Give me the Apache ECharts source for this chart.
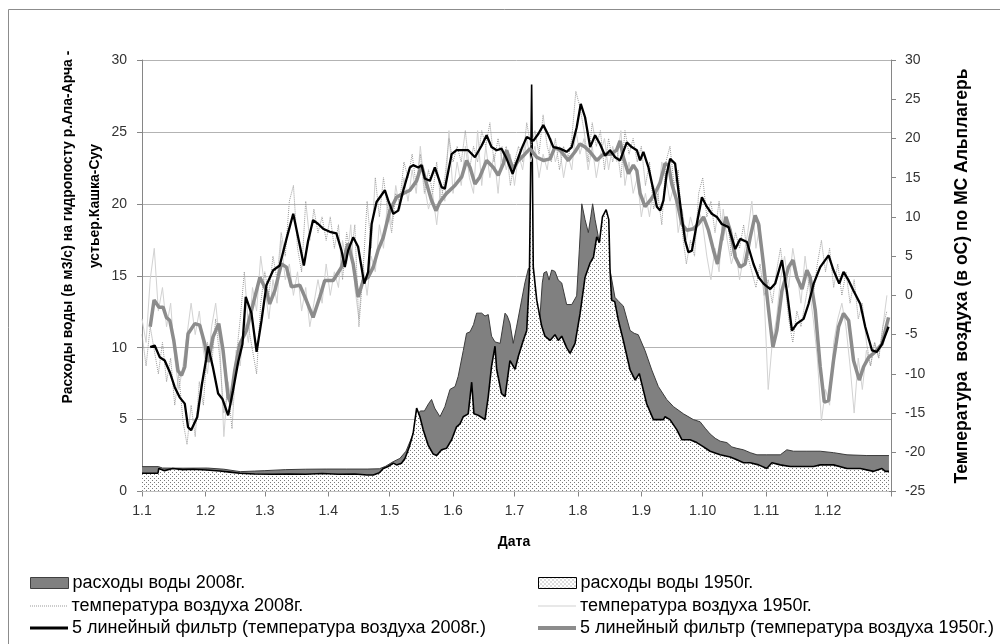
<!DOCTYPE html>
<html><head><meta charset="utf-8">
<script src="https://cdn.jsdelivr.net/npm/echarts@6/dist/echarts.min.js"></script>
<style>html,body{margin:0;padding:0;background:#fff}#c{width:1000px;height:644px}</style>
</head><body><div id="c"></div>
<script>
// ---- axis ticks / labels ----
const monthStartDays = [0,31,60,91,121,152,182,213,244,274,305,335];
const xLabels = ['1.1','1.2','1.3','1.4','1.5','1.6','1.7','1.8','1.9','1.10','1.11','1.12'];
const yearEndDay = 366;

// ---- water discharge, m3/s : [day of year, value] ----
const q2008 = [[0,1.73],[8,1.73],[10,1.63],[20,1.62],[32,1.63],[40,1.55],[48,1.38],[55,1.42],[60,1.45],[70,1.52],[80,1.55],[90,1.56],[100,1.56],[110,1.56],[116,1.58],[119,1.75],[122.7,2.07],[126,2.3],[129,2.8],[132.5,4.0],[135,5.4],[136,5.6],[138,5.6],[140,6.1],[141.5,6.4],[143,5.8],[145.6,5.2],[148,5.9],[150.5,7.1],[153,7.3],[154.5,8.0],[157,9.8],[158.6,11.0],[160.3,11.1],[162,11.6],[163.5,12.4],[166,12.4],[167.6,12.2],[169.2,12.3],[170.8,10.8],[172.5,10.4],[175,10.3],[177.4,12.4],[178.5,12.2],[179.8,11.7],[181.4,10.3],[183.1,11.5],[185.5,13.3],[187.1,14.5],[188.8,15.5],[190.4,15.6],[192,12.5],[194,11.2],[195.6,14.5],[196.4,15.2],[197.7,15.3],[198.9,14.7],[200.2,15.4],[201.8,15.3],[203.4,14.7],[205.1,14.5],[207.5,13.0],[210,13.0],[212.4,13.6],[213.7,16.8],[214.9,20.0],[216.5,18.9],[218.1,18.0],[219.3,19.1],[220.2,20.0],[221.4,18.9],[223,17.7],[225,16.5],[227,15.8],[228.7,15.4],[231.1,13.5],[233,13.2],[235.2,12.9],[238.5,11.2],[240.5,11.0],[242.5,10.9],[245.8,9.8],[249.1,8.45],[252.3,7.3],[256.4,6.4],[259.7,5.9],[264.6,5.4],[269.4,5.0],[272.7,4.85],[275.2,4.4],[277.6,4.0],[280.1,3.7],[282.5,3.5],[285.8,3.4],[288.2,3.1],[290.7,3.0],[293.9,2.9],[297.2,2.7],[300.5,2.55],[305.3,2.55],[311.9,2.55],[315.1,2.9],[318.4,2.8],[324.9,2.8],[331.4,2.8],[337.9,2.7],[344.5,2.55],[354.2,2.5],[365,2.5]];
const q1950 = [[0,1.27],[7.8,1.27],[8.2,1.6],[11,1.45],[15,1.6],[20,1.52],[25,1.55],[31.5,1.5],[38,1.42],[43,1.35],[47.8,1.27],[55,1.22],[64,1.2],[72,1.22],[80,1.2],[88,1.25],[96,1.2],[104,1.22],[110,1.15],[113,1.15],[116,1.3],[117.9,1.6],[120.3,1.74],[122.8,1.97],[124.4,1.85],[126.8,1.97],[128.5,2.3],[130.6,3.1],[132.5,4.05],[134.2,5.8],[135.8,5.2],[137.4,4.3],[139.9,3.2],[142.3,2.6],[144,2.5],[146.4,2.9],[148.8,3.0],[151.3,3.6],[153.7,4.5],[155.4,4.7],[157,5.2],[159.4,5.4],[161.1,7.6],[162.2,5.4],[164.3,5.3],[167.6,5.0],[169.2,6.6],[170.8,8.7],[172.5,10.1],[173.3,8.5],[175.7,6.8],[177.4,6.6],[179.8,9.1],[182.3,8.5],[183.9,9.4],[186.3,10.5],[188,11.2],[189.3,14.9],[190.4,28.3],[191.2,15.6],[192.9,13.3],[195.3,11.5],[196.9,10.8],[199.4,10.5],[201.8,10.9],[203.4,10.5],[205.1,10.8],[207.5,10.0],[209.2,9.6],[211.6,10.3],[214.1,12.4],[216.5,14.9],[219,15.9],[220.6,16.3],[222.2,17.7],[223.5,17.3],[225,19.1],[226.8,19.6],[228.1,18.9],[228.7,15.4],[229.5,13.3],[231,13.2],[232.8,11.9],[235.2,10.5],[238.5,8.45],[241,7.75],[243,8.2],[244.2,7.5],[246.6,6.1],[249.9,5.0],[254.8,5.0],[255.6,5.2],[258,5.0],[261.3,4.3],[263.8,3.6],[267.8,3.6],[271.1,3.4],[274.4,3.1],[277.6,2.8],[282.5,2.55],[287.4,2.4],[290.7,2.2],[293.9,2.0],[297.2,2.0],[301.3,1.85],[305.3,1.6],[307.8,2.0],[311.9,1.85],[316.8,1.74],[321.6,1.74],[328.2,1.74],[331.4,1.85],[337.9,1.85],[344.5,1.6],[351,1.6],[357.5,1.4],[361.6,1.6],[363.2,1.4],[365,1.4]];

// ---- daily air temperature (read every 2nd day), deg C ----
const rawStepDays = 2;
const t2008Raw = [-5,-9,-4,-7,-10,-6,-11,-8,-14,-10,-16,-19,-14,-18,-11,-14,-6,-9,-3,-8,-15,-12,-17,-8,-3,3,-4,-7,-10,-1,3,0,5,2,8,5,12,14,6,3,12,7,11,8,10,7,10,6,9,2,8,5,9,-4,3,12,6,15,10,15,11,8,13,12,17,15,18,14,18,13,16,13,17,12,15,20,17,19,17,21,16,19,17,21,19,22,17,20,17,19,14,17,19,17,22,19,21,18,23,19,17,20,16,19,17,20,26,24,21,17,22,19,21,16,20,17,19,15,21,18,20,17,19,14,17,11,13,9,17,19,14,16,8,4,7,5,13,15,10,12,8,12,7,10,5,8,6,9,5,3,1,4,0,2,-1,3,6,2,-3,-6,-2,-4,-1,2,0,4,7,3,6,1,4,0,3,-1,2,-3,-1,-6,-9,-6,-8,-4,-2];
const t1950Raw = [-3,-6,2,6,-2,1,-4,-1,-8,-12,-9,-5,-1,-5,-2,-7,-10,-4,-1,-6,-18,-11,-14,-7,-9,-3,-6,1,-2,5,1,-3,2,-1,7,2,4,0,3,-2,1,-4,-1,2,-1,4,0,3,1,7,4,9,1,-3,4,0,5,3,9,6,12,9,14,11,15,12,16,13,19,14,11,13,9,14,12,21,13,17,14,19,15,13,21,14,19,15,18,13,19,16,18,14,18,16,20,17,19,15,18,16,20,17,19,15,18,16,21,18,20,16,19,15,18,20,16,19,17,21,14,17,13,15,10,13,10,14,12,17,15,12,14,8,11,7,10,8,11,9,5,2,6,3,11,7,4,6,2,5,8,12,6,9,0,-12,-6,-3,2,5,1,6,3,-1,5,1,-3,-8,-16,-12,-14,-6,-3,-1,-4,-9,-15,-8,-12,-7,-9,-6,-8,-4,0];

// ---- 5-point moving average lines : [day, deg C] ----
const f2008 = [[4,-6.6],[6.2,-6.4],[8.7,-7.9],[11.1,-8.3],[13.6,-9.8],[16,-11.7],[18.4,-13],[20.9,-13.8],[22.5,-16.8],[24,-17.2],[27,-15.5],[29.3,-11.3],[31.3,-8.2],[32.3,-6.5],[34.6,-9.1],[37.2,-12.5],[39.3,-13.2],[42.1,-15.3],[44.5,-12.1],[47,-8.5],[49.1,-6.2],[50.7,-0.2],[53.5,-2.3],[56,-7.2],[58.4,-3.2],[60.8,1.3],[64.1,3.2],[67.3,3.8],[70.6,7.2],[73.9,10.4],[77.1,6.4],[79.1,3.8],[81.2,7],[83.6,9.6],[86.1,9.1],[88.5,8.5],[91.8,8.1],[95,7.9],[97.5,5.7],[99.1,3.6],[100.7,5.7],[103.2,7.4],[105.6,6.2],[108.6,1.5],[110.5,3],[112.2,9.1],[114.6,11.9],[118.7,13.4],[120.3,12.1],[122.8,10.4],[125.2,10.8],[127.7,13.4],[130.9,16.3],[132.5,16.6],[135,16.3],[136.6,16.6],[138.2,14.9],[140.7,14.6],[143.1,16.3],[146.4,13.8],[148,13.6],[151.3,18],[153.7,18.5],[157,18.5],[159.4,18.5],[162.7,17.6],[166,19.1],[168.4,20.4],[170.8,18.9],[173.3,18.5],[175.7,18.7],[178.2,17.4],[181.1,15.5],[183.1,17],[185.5,18.7],[188,20.2],[191.2,19.7],[193.7,20.6],[196.1,21.7],[198.6,20.4],[201,18.9],[204.3,18.7],[207.5,18.3],[210,18.9],[212.4,21.4],[214.4,24.4],[216.5,22.7],[219,18.9],[221.4,20.4],[223.8,19.3],[226.3,17.8],[228.7,18.5],[231.2,17.6],[233.6,17.2],[236.9,19.5],[239.3,18.9],[241.8,18.5],[243.4,17.2],[245,18.3],[247.5,16.3],[249.9,13.4],[251.6,11.3],[253.2,10.8],[254.8,12.1],[256.4,15.5],[258.1,17.4],[260.5,16.8],[262.1,13.4],[263.8,10],[265.4,7],[267,5.5],[268.7,5.7],[271.1,9.1],[273.6,12.5],[276,11.3],[278.4,10.4],[280.9,10],[283.3,9.1],[286.6,8.7],[289.9,5.9],[292.3,7.2],[295.6,6.8],[298.8,4],[301.3,2.3],[303.7,1.5],[307,0.8],[309.4,1.5],[312.7,4.5],[315.1,0.6],[317.6,-4.5],[320,-3.6],[323.3,-3],[325.7,-1.1],[328.2,1.5],[331.4,3.6],[335.5,5.1],[337.9,3.2],[340.7,1.5],[342.8,3],[345.3,1.9],[347.7,0.6],[351,-1.1],[353.4,-4],[356.7,-7],[359.1,-7.2],[361.6,-6.2],[364.8,-4]];
const f1950 = [[4,-4],[5.9,-0.6],[8.3,-1.5],[10.3,-1.5],[11.9,-2.8],[13.6,-3.2],[15.5,-5.7],[17.6,-9.6],[19.3,-10.2],[20.9,-9.1],[22.5,-4.9],[25.8,-3.6],[28.2,-3.8],[30.7,-6.2],[32.3,-8.5],[34.7,-5.3],[37.5,-3.6],[39.6,-7],[42.1,-13],[43.2,-13.6],[45.3,-9.6],[47.8,-6.2],[51,-4.5],[54.3,-1.1],[57.6,2.3],[60.8,0.6],[62.4,-1.1],[64.9,0.6],[68.1,4],[70.6,3.6],[73,1.1],[77.1,1.3],[79.6,-0.2],[83.6,-2.8],[86.9,-0.2],[89.3,1.9],[93.4,1.9],[97.5,3.6],[100.7,6.6],[103.2,4],[105.6,-0.2],[108.1,1.9],[110.5,2.3],[113,3.6],[115.4,5.8],[117.9,7.4],[121.1,10.8],[124.4,12.5],[127.7,13],[130.9,13.4],[134.2,14.6],[136.6,16.6],[139.1,14.2],[141.5,12.1],[143.6,10.8],[145.6,11.9],[148.8,13],[152.9,14],[156.2,15.1],[158.6,17.2],[160.3,16.3],[162.7,14.2],[165.1,15.1],[168.4,17.2],[171.7,16.3],[174.1,15.3],[176.6,16.8],[178.2,18.5],[179.8,17.2],[181.4,16.1],[183.9,17.2],[187.1,18],[189.6,18.7],[192.9,17.6],[196.1,17.2],[199.4,17.4],[201.8,18.9],[204.3,18.5],[208.3,17.2],[211.6,18.3],[214,19.3],[216.5,18.9],[218.9,18.3],[222.2,17.2],[225.4,18],[228.7,18],[231.9,18.5],[233.6,19.7],[235.2,17.6],[237.7,15.5],[240.1,16.6],[241.8,15.9],[243.4,13],[245.8,11.3],[248.3,12.1],[250.7,13],[253.2,14.4],[255.6,16.8],[257.3,16.6],[258.9,14.2],[261.3,12.1],[263.8,9.1],[266.2,8.3],[269.5,8.5],[271.9,9.1],[274.4,10],[276.8,8.3],[279.3,5.7],[281.2,4],[283.3,7.4],[285.3,10],[287.4,8.3],[289.9,4.9],[292.3,3.6],[294.7,4],[297.2,7.4],[299.6,10.2],[301.3,9.1],[303.7,4],[306.2,-1.9],[308.3,-6.6],[310.2,-4.5],[312.7,0.6],[315.9,3.6],[318.1,4.5],[320,2.3],[322.5,0.8],[324.9,3.2],[326.5,2.3],[329,-1.9],[331.4,-9.1],[333.4,-13.6],[335.5,-13.4],[337.9,-8.3],[340.4,-4],[342.8,-2.3],[345.3,-3.2],[347.7,-8.3],[350.5,-10.8],[352.6,-9.1],[355.1,-7.9],[358.3,-7.2],[361.6,-6.2],[364.8,-2.8]];

const names = ['расходы воды 2008г.','расходы воды 1950г.','температура воздуха 2008г.','температура воздуха 1950г.','5 линейный фильтр (температура воздуха 2008г.)','5 линейный фильтр (температура воздуха 1950г.)'];

function withDays(vals){ return vals.map((v,i)=>[i*rawStepDays, v]); }

// dotted fill pattern
const pc = document.createElement('canvas'); pc.width = 4; pc.height = 4;
const pctx = pc.getContext('2d'); pctx.fillStyle = '#fff'; pctx.fillRect(0,0,4,4);
pctx.fillStyle = '#7a7a7a'; pctx.fillRect(0,0,1,1); pctx.fillRect(2,2,1,1);
const dotPattern = {image: pc, repeat: 'repeat'};

// legend line icons
let dotPath = 'path://';
for (let i = 0; i < 38; i += 2) dotPath += 'M' + i + ' 0h1v1h-1z ';
const solidPath = 'path://M0 0h38v1h-38z';

const FONT = 'Liberation Sans';
const COL1 = '#808080', RAW08 = '#9a9a9a', RAW50 = '#d2d2d2', F50 = '#8c8c8c';
const chart = echarts.init(document.getElementById('c'), null, {renderer:'canvas'});
const legendText = {fontFamily:FONT, fontSize:18, color:'#000', padding:[0,0,0,-1]};
function lg(i, left, rowCenter, iconH, item){
  return {padding:0, itemWidth:38, itemHeight:iconH, itemGap:0, selectedMode:false,
    left:left, top:rowCenter - 7, textStyle:legendText, data:[Object.assign({name:names[i]}, item)]};
}
chart.setOption({
  animation:false,
  backgroundColor:'#fff',
  grid:{left:142, right:109, top:60, bottom:152.5},
  legend:[
    lg(0, 30, 581, 11, {icon:'rect', itemStyle:{color:COL1, borderColor:'#404040', borderWidth:1}}),
    lg(1, 538, 581, 11, {icon:'rect', itemStyle:{color:dotPattern, borderColor:'#000', borderWidth:1}}),
    lg(2, 30, 604, 1, {icon:dotPath, itemStyle:{color:RAW08, borderWidth:0}}),
    lg(3, 538, 604, 1, {icon:solidPath, itemStyle:{color:RAW50, borderWidth:0}}),
    lg(4, 30, 626, 3, {icon:'rect', itemStyle:{color:'#000', borderWidth:0}}),
    lg(5, 538, 626, 4, {icon:'rect', itemStyle:{color:F50, borderWidth:0}})
  ],
  xAxis:{type:'value', min:0, max:yearEndDay,
    axisLine:{lineStyle:{color:'#868686'}},
    axisTick:{show:true, length:5, lineStyle:{color:'#868686'}, customValues: monthStartDays.concat([yearEndDay])},
    axisLabel:{customValues: monthStartDays, formatter:(v)=>xLabels[monthStartDays.indexOf(v)], fontFamily:FONT, fontSize:14, color:'#333', margin:13},
    splitLine:{show:false}},
  yAxis:[
    {type:'value', min:0, max:30, interval:5, position:'left',
     axisLine:{show:true, lineStyle:{color:'#868686'}},
     axisTick:{show:true, length:5, lineStyle:{color:'#868686'}},
     axisLabel:{fontFamily:FONT, fontSize:14, color:'#333', margin:15},
     splitLine:{lineStyle:{color:'#b3b3b3', width:1}}},
    {type:'value', min:-25, max:30, interval:5, position:'right',
     axisLine:{show:true, lineStyle:{color:'#868686'}},
     axisTick:{show:true, length:5, lineStyle:{color:'#868686'}},
     axisLabel:{fontFamily:FONT, fontSize:14, color:'#333', margin:14},
     splitLine:{show:false}}
  ],
  series:[
    {name:names[0], type:'line', yAxisIndex:0, data:q2008, symbol:'none', z:1,
     lineStyle:{color:'#3c3c3c', width:1}, itemStyle:{color:COL1},
     areaStyle:{color:COL1, opacity:1}},
    {name:names[1], type:'line', yAxisIndex:0, data:q1950, symbol:'none', z:2,
     lineStyle:{color:'#000', width:1.6}, itemStyle:{color:'#000'},
     areaStyle:{color:dotPattern, opacity:1}},
    {name:names[3], type:'line', yAxisIndex:1, data:withDays(t1950Raw), symbol:'none', z:3,
     lineStyle:{color:RAW50, width:1}, itemStyle:{color:RAW50}},
    {name:names[2], type:'line', yAxisIndex:1, data:withDays(t2008Raw), symbol:'none', z:3,
     lineStyle:{color:RAW08, width:1, type:[1,1]}, itemStyle:{color:RAW08}},
    {name:names[5], type:'line', yAxisIndex:1, data:f1950, symbol:'none', z:4,
     lineStyle:{color:F50, width:3.5}, itemStyle:{color:F50}},
    {name:names[4], type:'line', yAxisIndex:1, data:f2008, symbol:'none', z:5,
     lineStyle:{color:'#000', width:2.3}, itemStyle:{color:'#000'}}
  ],
  graphic:[
    {type:'rect', shape:{x:8.5, y:9.5, width:1200, height:1000}, style:{fill:null, stroke:'#8c8c8c', lineWidth:1}, silent:true, z:-1},
    {type:'text', x:68, y:227, rotation:Math.PI/2, style:{text:'Расходы воды (в м3/с) на гидропосту р.Ала-Арча -', font:'bold 14px "Liberation Sans"', fill:'#000', align:'center', verticalAlign:'middle'}},
    {type:'text', x:95, y:206, rotation:Math.PI/2, style:{text:'устьер.Кашка-Суу', font:'bold 14px "Liberation Sans"', fill:'#000', align:'center', verticalAlign:'middle'}},
    {type:'text', x:962, y:276, rotation:Math.PI/2, style:{text:'Температура  воздуха (в оС) по МС Альплагерь', font:'bold 17.5px "Liberation Sans"', fill:'#000', align:'center', verticalAlign:'middle'}},
    {type:'text', x:514, y:542, style:{text:'Дата', font:'bold 14px "Liberation Sans"', fill:'#000', align:'center', verticalAlign:'middle'}}
  ]
});
</script></body></html>
